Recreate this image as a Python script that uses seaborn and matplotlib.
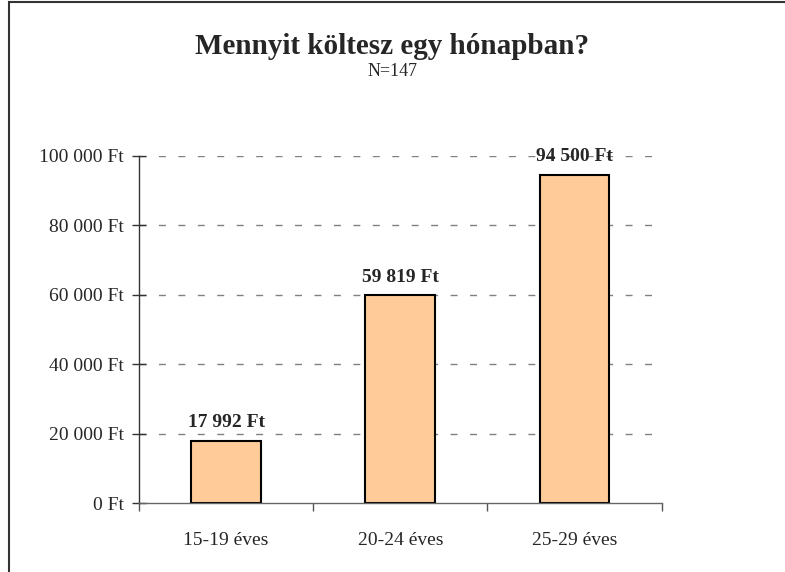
import matplotlib
matplotlib.use("Agg")
import matplotlib.pyplot as plt
import seaborn as sns
import pandas as pd
from matplotlib.patches import Rectangle
from matplotlib.ticker import FuncFormatter, FixedLocator

categories = ["15-19 éves", "20-24 éves", "25-29 éves"]
values = [17992, 59819, 94500]
title = "Mennyit költesz egy hónapban?"
subtitle = "N=147"

BAR_COLOR = "#FFCC99"


def ft(v, pos=None):
    return f"{int(round(v)):,}".replace(",", " ") + " Ft"


sns.set_theme(style="white")
plt.rcParams["font.family"] = ["Liberation Serif", "DejaVu Serif"]

df = pd.DataFrame({"kor": categories, "osszeg": values})

fig = plt.figure(figsize=(7.85, 5.72), dpi=100)
ax = fig.add_axes([0.177, 0.1206, 0.666, 0.6067])

sns.barplot(data=df, x="kor", y="osszeg", ax=ax, color=BAR_COLOR,
            edgecolor="black", linewidth=1.5, width=0.4, saturation=1)

ax.set_xlim(-0.5, 2.5)
ax.set_ylim(0, 100000)
ax.set_xlabel("")
ax.set_ylabel("")

ax.yaxis.set_major_locator(FixedLocator([0, 20000, 40000, 60000, 80000, 100000]))
ax.yaxis.set_major_formatter(FuncFormatter(ft))
for y in [20000, 40000, 60000, 80000, 100000]:
    ax.axhline(y, color="#808080", lw=1, dashes=(5, 9), zorder=0)

ax.set_xticks([0, 1, 2])
ax.set_xticklabels(categories)
ax.set_xticks([-0.5, 0.5, 1.5, 2.5], minor=True)
ax.tick_params(axis="x", which="major", length=0, pad=21, labelsize=14)
ax.tick_params(axis="x", which="minor", length=6, width=1, color="#555555",
               direction="out", bottom=True)
ax.tick_params(axis="y", length=10, width=1, color="#333333",
               direction="inout", left=True, labelsize=14, pad=6)

for side in ["top", "right"]:
    ax.spines[side].set_visible(False)
ax.spines["left"].set_color("#333333")
ax.spines["bottom"].set_color("#666666")
ax.spines["left"].set_linewidth(1)
ax.spines["bottom"].set_linewidth(1)

for i, v in enumerate(values):
    ax.annotate(ft(v), (i, v), xytext=(0, 7), textcoords="offset points",
                ha="center", va="bottom", fontsize=14, fontweight="bold")

fig.text(0.5, 0.905, title, ha="center", va="baseline",
         fontsize=21, fontweight="bold")
fig.text(0.5, 0.868, subtitle, ha="center", va="baseline", fontsize=13)

fig.patches.append(Rectangle((9 / 785, -0.1), 1.2, 1.1 - 2 / 572,
                             transform=fig.transFigure, fill=False,
                             edgecolor="#333333", lw=1.5))

fig.savefig("out.png", dpi=100)
